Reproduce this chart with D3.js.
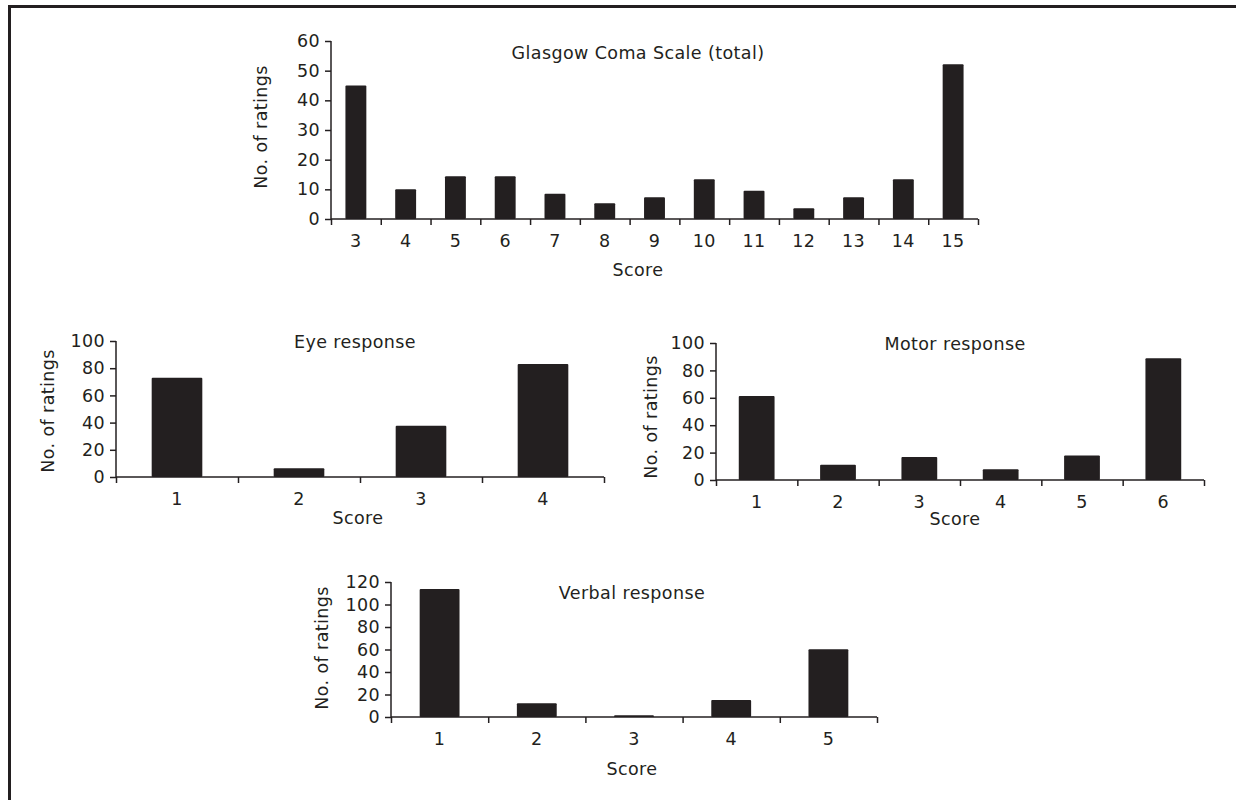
<!DOCTYPE html>
<html>
<head>
<meta charset="UTF-8">
<script src="https://cdn.jsdelivr.net/npm/d3@7"></script>
<style>
  body { margin: 0; background: #fff; }
  svg { display: block; }
  text { font-family: "DejaVu Sans"; font-size: 17.5px; fill: #231f20; letter-spacing: 0.4px; }
</style>
<title>Glasgow Coma Scale ratings</title>
</head>
<body>
<svg id="chart" width="1236" height="800"></svg>
<script>
// data
var gcsScores = ["3", "4", "5", "6", "7", "8", "9", "10", "11", "12", "13", "14", "15"];
var gcsCounts = [45, 10, 14.4, 14.4, 8.5, 5.3, 7.3, 13.4, 9.5, 3.6, 7.3, 13.4, 52.2];
var gcsTicks = [0, 10, 20, 30, 40, 50, 60];

var eyeScores = ["1", "2", "3", "4"];
var eyeCounts = [73, 6.4, 37.7, 83];
var eyeTicks = [0, 20, 40, 60, 80, 100];

var motorScores = ["1", "2", "3", "4", "5", "6"];
var motorCounts = [61.4, 11.2, 16.8, 7.8, 17.8, 88.8];
var motorTicks = [0, 20, 40, 60, 80, 100];

var verbalScores = ["1", "2", "3", "4", "5"];
var verbalCounts = [113.8, 12.2, 1.5, 15.1, 60.3];
var verbalTicks = [0, 20, 40, 60, 80, 100, 120];

var ink = "#231f20";
var svg = d3.select("#chart");

// frame: only left and top edges are drawn
svg.append("rect").attr("x", 8).attr("y", 5).attr("width", 3).attr("height", 795).attr("fill", ink);
svg.append("rect").attr("x", 8).attr("y", 5).attr("width", 1228).attr("height", 3).attr("fill", ink);

function drawPanel(p) {
  var g = svg.append("g");
  var x = d3.scaleBand().domain(p.scores).range([p.x0, p.x1])
      .paddingInner(p.pad).paddingOuter(p.pad / 2);
  var y = d3.scaleLinear().domain([0, d3.max(p.ticks)]).range([p.y0, p.yTop]);
  // boundary ticks between the bars
  var edge = d3.scaleLinear().domain([0, p.scores.length]).range([p.x0, p.x1]);

  g.selectAll("rect.bar").data(p.counts).enter().append("rect")
      .attr("class", "bar")
      .attr("x", function(d, i) { return x(p.scores[i]); })
      .attr("width", x.bandwidth())
      .attr("y", function(d) { return y(d); })
      .attr("height", function(d) { return p.y0 - y(d); })
      .attr("rx", 1)
      .attr("fill", ink);

  var yAxis = g.append("g").attr("transform", "translate(" + p.x0 + ",0)")
      .call(d3.axisLeft(y).tickValues(p.ticks).tickSize(6).tickPadding(5).tickFormat(d3.format("d")));
  yAxis.select(".domain").attr("d", "M0," + y(d3.max(p.ticks)) + "V" + p.y0);

  var xEdges = g.append("g").attr("transform", "translate(0," + p.y0 + ")")
      .call(d3.axisBottom(edge).tickValues(d3.range(p.scores.length + 1)).tickSize(6).tickFormat(""));
  xEdges.select(".domain").attr("d", "M" + p.x0 + ",0H" + p.x1);

  var xLabels = g.append("g").attr("transform", "translate(0," + p.y0 + ")")
      .call(d3.axisBottom(x).tickSize(0).tickPadding(16));
  xLabels.select(".domain").remove();

  g.selectAll(".domain, .tick line").attr("stroke", ink).attr("stroke-width", 1.5);
  g.selectAll(".tick text").attr("font-family", null).attr("font-size", null).attr("fill", ink);

  g.append("text").attr("x", p.titleX).attr("y", p.titleY)
      .attr("text-anchor", "middle").text(p.title);
  g.append("text").attr("x", p.scoreX).attr("y", p.scoreY)
      .attr("text-anchor", "middle").text("Score");
  g.append("text").attr("transform", "translate(" + p.ylabX + "," + p.ylabY + ") rotate(-90)")
      .attr("text-anchor", "middle").attr("dy", "0.35em").text("No. of ratings");
}

drawPanel({ title: "Glasgow Coma Scale (total)", scores: gcsScores, counts: gcsCounts, ticks: gcsTicks,
  x0: 331, x1: 978, y0: 219, yTop: 41, pad: 0.58,
  titleX: 638, titleY: 59, scoreX: 638, scoreY: 276, ylabX: 261, ylabY: 127 });

drawPanel({ title: "Eye response", scores: eyeScores, counts: eyeCounts, ticks: eyeTicks,
  x0: 116, x1: 604, y0: 477, yTop: 341, pad: 0.585,
  titleX: 355, titleY: 348, scoreX: 358, scoreY: 524, ylabX: 48, ylabY: 411 });

drawPanel({ title: "Motor response", scores: motorScores, counts: motorCounts, ticks: motorTicks,
  x0: 716, x1: 1204, y0: 480, yTop: 343, pad: 0.56,
  titleX: 955, titleY: 350, scoreX: 955, scoreY: 525, ylabX: 651, ylabY: 417 });

drawPanel({ title: "Verbal response", scores: verbalScores, counts: verbalCounts, ticks: verbalTicks,
  x0: 391, x1: 877, y0: 717, yTop: 582, pad: 0.59,
  titleX: 632, titleY: 599, scoreX: 632, scoreY: 775, ylabX: 322, ylabY: 648 });
</script>
</body>
</html>
